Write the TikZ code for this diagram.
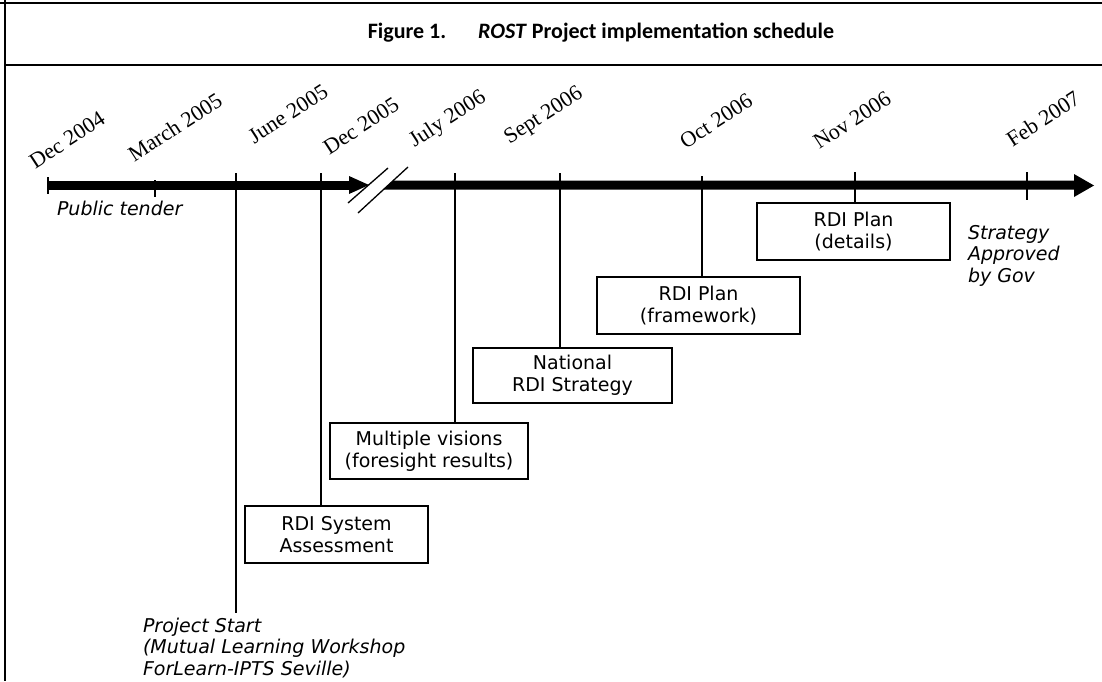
\documentclass[tikz,border=0pt]{standalone}
\usepackage{fontspec}
\newfontfamily\boxfont{DejaVu Sans}
\newfontfamily\datefont{Liberation Serif}
\newfontfamily\titlefont{Carlito}

\begin{document}
\begin{tikzpicture}[x=1pt,y=-1pt,
  every node/.style={inner sep=0pt, outer sep=0pt},
  datelabel/.style={font=\datefont\fontsize{22}{22}\selectfont, rotate=33, anchor=center},
  stagebox/.style={draw, line width=2.8pt, align=center,
    font=\boxfont\fontsize{19}{22}\selectfont},
  note/.style={align=left, anchor=north west,
    font=\boxfont\itshape\fontsize{19}{21.5}\selectfont},
  tickline/.style={line width=1.2pt},
  frameline/.style={line width=1.4pt},
  breakline/.style={line width=1.3pt}]
\useasboundingbox (0,0) rectangle (1102,681);

% frame and title
\draw[frameline] (0,3) -- (1102,3);
\draw[frameline] (5,0) -- (5,681);
\draw[frameline] (5,65) -- (1102,65);
\node[font=\titlefont\bfseries\fontsize{22}{26}\selectfont] (title) at (601,33)
  {Figure 1.\hspace{32pt}\textit{ROST} Project implementation schedule};

% time axis: two segments separated by a break mark
\coordinate (a1tip) at (369,185);
\coordinate (b1tip) at (1094,185.5);
\fill (48,180.5) rectangle (351,189.5);
\fill (349,176) -- (a1tip) -- (349,194) -- cycle;
\fill (393.3,180.5) -- (1076,180.5) -- (1076,189.5) -- (383.5,189.5) -- cycle;
\fill (1074,174) -- (b1tip) -- (1074,197) -- cycle;
\draw[breakline] (348,203) -- (388,168);
\draw[breakline] (358,213) -- (408,167);
\draw[tickline] (48,177) -- (48,194);

% date labels
\node[datelabel] (d1) at (67,140) {Dec 2004};
\node[datelabel] (d2) at (175,127) {March 2005};
\node[datelabel] (d3) at (288,114) {June 2005};
\node[datelabel] (d4) at (361,126) {Dec 2005};
\node[datelabel] (d5) at (448,120) {July 2006};
\node[datelabel] (d6) at (544,116) {Sept 2006};
\node[datelabel] (d7) at (716,121) {Oct 2006};
\node[datelabel] (d8) at (852,120) {Nov 2006};
\node[datelabel] (d9) at (1043,119) {Feb 2007};

% tick tops on the axis
\coordinate (k2) at (155,180);
\coordinate (k3) at (236,173);
\coordinate (k4) at (321,173);
\coordinate (k5) at (455,173);
\coordinate (k6) at (560,173);
\coordinate (k7) at (702,176);
\coordinate (k8) at (855,172);
\coordinate (k9) at (1027,172);
\coordinate (k2end) at (155,197);
\coordinate (k3end) at (236,613);
\coordinate (k9end) at (1027,200);

% stage boxes
\node[stagebox, minimum width=193pt, minimum height=57pt] (plandet) at (853.5,231.5)
  {RDI Plan\\(details)};
\node[stagebox, minimum width=203pt, minimum height=57pt] (planfw) at (698.5,305.5)
  {RDI Plan\\(framework)};
\node[stagebox, minimum width=199pt, minimum height=55pt] (national) at (572.5,375.5)
  {National\\RDI Strategy};
\node[stagebox, minimum width=198pt, minimum height=56pt] (visions) at (429,451)
  {Multiple visions\\(foresight results)};
\node[stagebox, minimum width=183pt, minimum height=57pt] (assess) at (336.5,534.5)
  {RDI System\\Assessment};

% notes
\node[note, anchor=west] (tender) at (57,208) {Public tender};
\node[note] (approved) at (968,225) {Strategy\\Approved\\by Gov};
\node[note] (start) at (143,618)
  {Project Start\\(Mutual Learning Workshop\\ForLearn-IPTS Seville)};

% connectors from the axis
\draw[tickline] (k2) -- (k2end);
\draw[tickline] (k3) -- (k3end);
\draw[tickline] (k4) -- (k4 |- assess.north);
\draw[tickline] (k5) -- (k5 |- visions.north);
\draw[tickline] (k6) -- (k6 |- national.north);
\draw[tickline] (k7) -- (k7 |- planfw.north);
\draw[tickline] (k8) -- (k8 |- plandet.north);
\draw[tickline] (k9) -- (k9end);
\end{tikzpicture}
\end{document}
